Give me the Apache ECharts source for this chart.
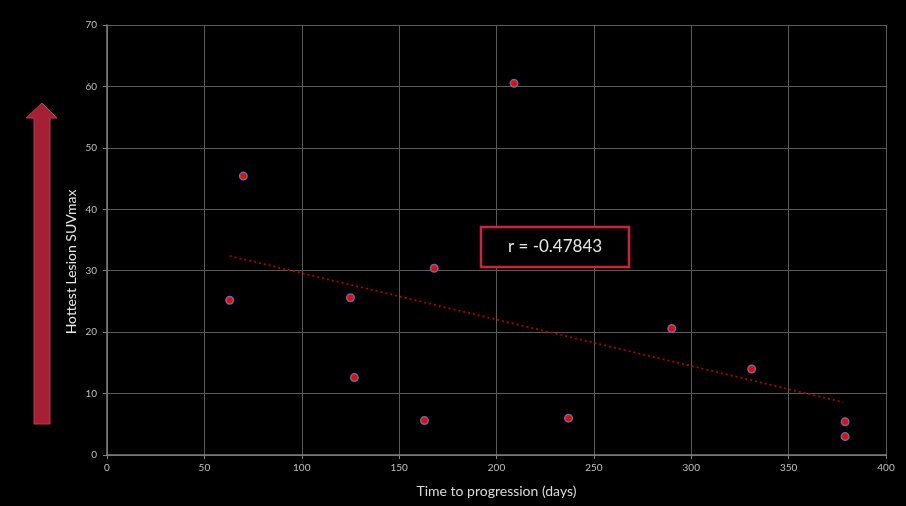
<!DOCTYPE html>
<html><head><meta charset="utf-8">
<script src="https://cdn.jsdelivr.net/npm/echarts@6/dist/echarts.min.js"></script>
<style>html,body{margin:0;padding:0;background:#000;}#c{width:906px;height:506px;}</style>
</head><body><div id="c"></div>
<script>
const daysToProgression = [63, 70, 125, 127, 163, 168, 209, 237, 290, 331, 379, 379];
const hottestSUVmax = [25.2, 45.4, 25.6, 12.6, 5.6, 30.4, 60.5, 6.0, 20.6, 14.0, 5.4, 3.0];
const trendX = [63, 378];
const trendY = [32.4, 8.6];
const correlationLabel = 'r = -0.47843';
const xTitle = 'Time to progression (days)';
const yTitle = 'Hottest Lesion SUVmax';

const points = daysToProgression.map((x, i) => [x, hottestSUVmax[i]]);
const trend = trendX.map((x, i) => [x, trendY[i]]);

const chart = echarts.init(document.getElementById('c'), null, {renderer: 'canvas'});
const labelFont = 'Lato, "Open Sans", sans-serif';
chart.setOption({
  backgroundColor: '#000',
  animation: false,
  grid: {left: 107, right: 20, top: 25, bottom: 51, containLabel: false, outerBoundsMode: 'none'},
  xAxis: {
    type: 'value', min: 0, max: 400, interval: 50,
    name: xTitle, nameLocation: 'middle', nameGap: 29,
    nameTextStyle: {color: '#d9d9d9', fontSize: 14, fontFamily: labelFont},
    axisLine: {show: true, lineStyle: {color: '#808080', width: 1.5}},
    axisTick: {show: true, length: 4, lineStyle: {color: '#808080'}},
    axisLabel: {color: '#bfbfbf', fontSize: 10, margin: 8, fontFamily: labelFont},
    splitLine: {show: true, lineStyle: {color: '#595959', width: 1}}
  },
  yAxis: {
    type: 'value', min: 0, max: 70, interval: 10,
    axisLine: {show: true, lineStyle: {color: '#808080', width: 1.5}},
    axisTick: {show: true, length: 4, lineStyle: {color: '#808080'}},
    axisLabel: {color: '#bfbfbf', fontSize: 10, margin: 10, fontFamily: labelFont},
    splitLine: {show: true, lineStyle: {color: '#595959', width: 1}}
  },
  series: [
    {
      type: 'line', data: trend, symbol: 'none', silent: true,
      lineStyle: {color: '#b00000', width: 1.8, type: [2, 3]}, z: 2
    },
    {
      type: 'scatter', data: points, symbol: 'circle', symbolSize: 7.5,
      itemStyle: {color: '#ff0000', borderColor: '#5a6fb0', borderWidth: 1.5, opacity: 1}, z: 3
    }
  ],
  graphic: [
    {
      type: 'polygon', z: 10,
      shape: {points: [[34, 424], [50, 424], [50, 118], [57, 118], [42, 103], [26, 118], [34, 118]]},
      style: {fill: '#a51f35', stroke: '#c0394d', lineWidth: 1}
    },
    {
      type: 'text', z: 10, x: 71, y: 262, rotation: Math.PI / 2,
      style: {text: yTitle, fill: '#e6e6e6', font: '14px ' + labelFont, textAlign: 'center', textVerticalAlign: 'middle'}
    },
    {
      type: 'rect', z: 10,
      shape: {x: 481, y: 227, width: 148, height: 40},
      style: {fill: '#000', stroke: '#d2203f', lineWidth: 2.5}
    },
    {
      type: 'text', z: 11, x: 555, y: 247,
      style: {text: correlationLabel, fill: '#e6e6e6', font: '17px ' + labelFont, textAlign: 'center', textVerticalAlign: 'middle'}
    }
  ]
});
</script></body></html>
